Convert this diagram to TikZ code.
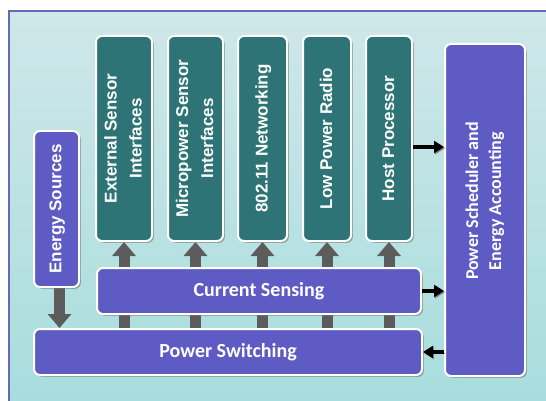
\documentclass[tikz,border=0pt]{standalone}
\usepackage{fontspec}
\newfontfamily\arialfont{Liberation Sans}
\newfontfamily\calfont{Carlito}
\usetikzlibrary{shadows,arrows.meta}

\definecolor{tealbox}{HTML}{2E7476}
\definecolor{violetbox}{HTML}{5F5BC5}
\definecolor{framec}{HTML}{6868B4}
\definecolor{bgtop}{HTML}{CFE7E9}
\definecolor{bgmid}{HTML}{98C4C4}
\definecolor{bgbot}{HTML}{A8DDDD}
\definecolor{stemgray}{HTML}{5C5C5C}

\pgfdeclarelayer{back}
\pgfdeclarelayer{links}
\pgfsetlayers{back,links,main}

\newcommand{\upright}[1]{\rotatebox{90}{\begin{tabular}{@{}c@{}}#1\end{tabular}}}

\begin{document}
\begin{tikzpicture}[x=1pt,y=-1pt,
  box/.style={draw=white, line width=2pt, rounded corners=6pt, inner sep=0pt,
    text=white,
    drop shadow={shadow xshift=1.8pt, shadow yshift=-1.8pt, opacity=0.45, fill=black!70}},
  unitbox/.style={box, fill=tealbox, minimum height=205pt,
    font=\arialfont\bfseries\fontsize{17}{25}\selectfont},
  energybox/.style={box, fill=violetbox,
    font=\arialfont\bfseries\fontsize{17}{25}\selectfont},
  railbox/.style={box, fill=violetbox, minimum height=46pt,
    font=\calfont\bfseries\fontsize{20}{24}\selectfont},
  schedbox/.style={box, fill=violetbox,
    font=\calfont\bfseries\fontsize{18}{23}\selectfont},
  blockarrow/.style={draw=stemgray, line width=11pt,
    -{Triangle[length=14pt,width=23pt]}},
  blockstem/.style={draw=stemgray, line width=11pt},
  link/.style={draw=black, line width=3.6pt,
    -{Triangle[length=10pt,width=12pt]},
    preaction={draw=black!45, transform canvas={shift={(1.2pt,-1.2pt)}}}}
]
\useasboundingbox (0,0) rectangle (546,401);

% panel background and frame
\begin{pgfonlayer}{back}
  \shade[top color=bgtop, middle color=bgmid, bottom color=bgbot]
    (9,11) rectangle (546,401);
  \draw[framec, line width=1.5pt] (9,401) -- (9,11) -- (546,11);
\end{pgfonlayer}

% functional units
\node[unitbox, minimum width=56pt] (ext)   at (124,138.5) {\upright{External Sensor\\Interfaces}};
\node[unitbox, minimum width=55pt] (micro) at (195.5,138.5) {\upright{Micropower Sensor\\Interfaces}};
\node[unitbox, minimum width=49pt] (net)   at (262.5,138.5) {\upright{802.11 Networking}};
\node[unitbox, minimum width=48pt] (radio) at (327,138.5) {\upright{Low Power Radio}};
\node[unitbox, minimum width=46pt] (host)  at (389,138.5) {\upright{Host Processor}};

% power path
\node[energybox, minimum width=45pt, minimum height=156pt] (energy) at (56.5,209)
  {\upright{Energy Sources}};
\node[railbox, minimum width=324pt] (sensing)   at (259,291) {Current Sensing};
\node[railbox, minimum width=388pt] (switching) at (228,352) {Power Switching};
\node[schedbox, minimum width=80pt, minimum height=332pt] (sched) at (485,210)
  {\rotatebox{90}{\hspace{18pt}\begin{tabular}{@{}c@{}}Power Scheduler and\\Energy Accounting\end{tabular}}};

% supply arrows behind the boxes
\begin{pgfonlayer}{links}
  \foreach \u in {ext,micro,net,radio,host} {
    \draw[blockarrow] (\u.south |- sensing.north) -- (\u.south);
    \draw[blockstem] (\u.south |- switching.north) -- (\u.south |- sensing.south);
  }
  \draw[blockarrow] ([xshift=3pt]energy.south) -- ([xshift=3pt]energy.south |- switching.north);
\end{pgfonlayer}

% control and measurement links
\draw[link] ([yshift=-8.5pt]host.east) -- ([yshift=-8.5pt]host.east -| sched.west);
\draw[link] (sensing.east) -- (sensing.east -| sched.west);
\draw[link] (sched.west |- switching.east) -- (switching.east);
\end{tikzpicture}
\end{document}
